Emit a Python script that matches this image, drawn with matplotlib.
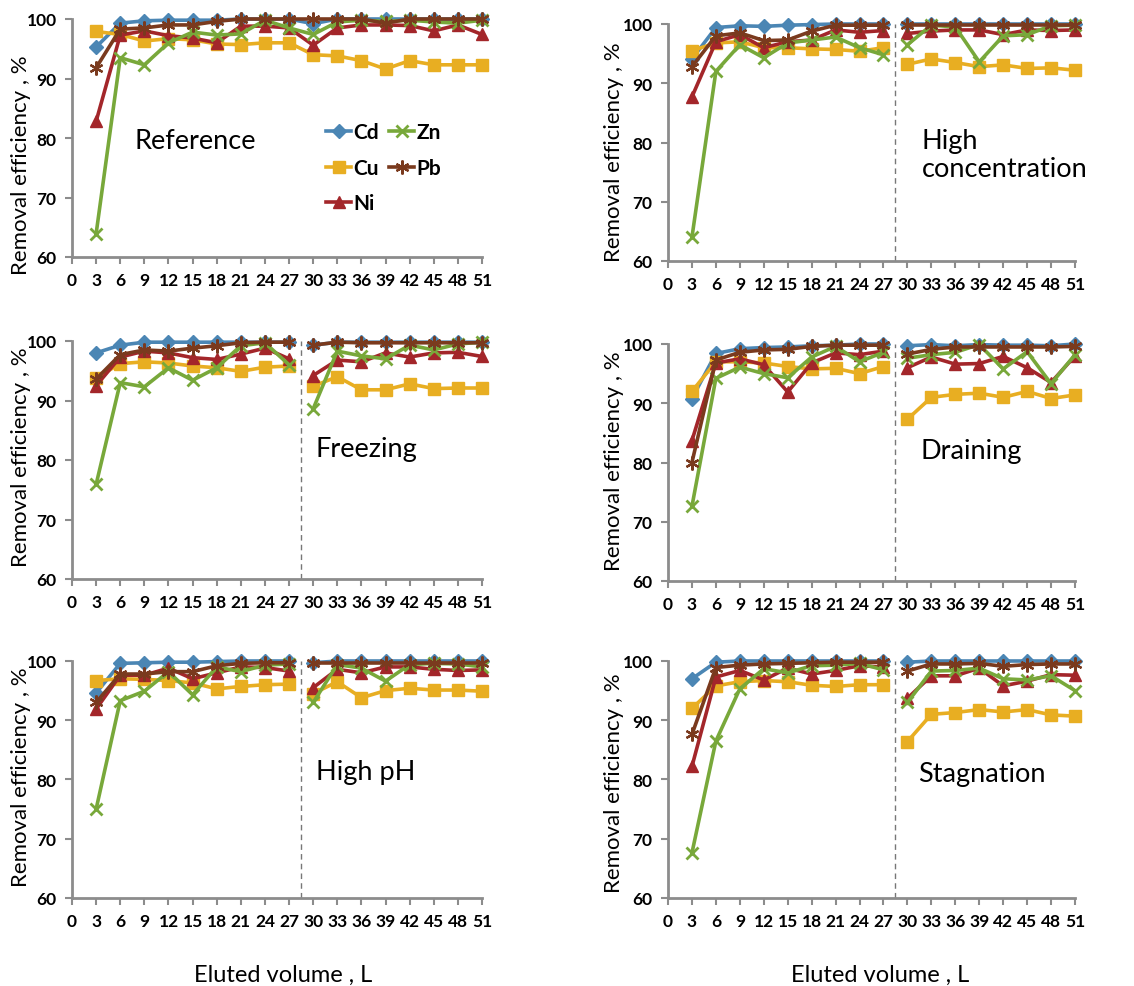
import matplotlib

matplotlib.use("Agg")
import matplotlib.pyplot as plt

plt.rcParams["font.family"] = ["Lato", "DejaVu Sans"]

# eluted volume, L
volume = [3, 6, 9, 12, 15, 18, 21, 24, 27, 30, 33, 36, 39, 42, 45, 48, 51]
ticks = list(range(0, 52, 3))
metals = ["Cd", "Cu", "Ni", "Zn", "Pb"]

# removal efficiency, %
ref_cd = [95.3, 99.3, 99.7, 99.8, 99.8, 99.8, 100, 100, 100, 99.2, 100, 100, 100, 100, 100, 100, 100]
ref_cu = [97.9, 97.4, 96.3, 96.7, 96.5, 95.8, 95.7, 96.0, 96.0, 94.0, 93.8, 93.0, 91.6, 93.0, 92.3, 92.3, 92.3]
ref_ni = [82.8, 97.3, 98.0, 97.2, 96.8, 96.0, 98.8, 98.8, 98.5, 95.6, 98.5, 99.0, 99.0, 98.9, 98.0, 99.0, 97.4]
ref_zn = [63.9, 93.5, 92.3, 96.0, 97.8, 97.3, 97.5, 99.8, 98.5, 97.4, 99.5, 99.8, 99.6, 99.8, 99.5, 99.3, 99.8]
ref_pb = [91.8, 98.3, 98.5, 99.0, 99.0, 99.6, 100, 100, 100, 100, 100, 100, 99.3, 100, 100, 100, 100]

hc_cd = [94.1, 99.4, 99.7, 99.6, 99.8, 99.9, 100, 100, 100, 100, 100, 100, 100, 100, 100, 100, 100]
hc_cu = [95.5, 96.8, 97.0, 96.0, 96.0, 95.8, 95.7, 95.4, 96.0, 93.2, 94.1, 93.5, 92.8, 93.1, 92.5, 92.6, 92.2]
hc_ni = [87.7, 97.0, 98.2, 96.0, 97.0, 97.3, 99.0, 98.6, 98.9, 98.4, 98.8, 99.0, 99.0, 98.2, 99.0, 98.9, 99.0]
hc_zn = [64.0, 92.0, 96.5, 94.3, 96.8, 97.3, 97.8, 96.0, 94.8, 96.5, 99.8, 99.5, 93.6, 98.0, 98.2, 99.7, 99.8]
hc_pb = [92.8, 98.0, 98.5, 97.2, 97.3, 98.8, 99.8, 99.8, 99.8, 99.8, 99.8, 99.8, 99.8, 99.8, 99.8, 99.8, 99.8]

fr_cd = [98.0, 99.3, 99.8, 99.8, 99.8, 99.8, 99.8, 99.8, 99.8, 99.3, 99.8, 99.8, 99.8, 99.8, 99.8, 99.8, 99.8]
fr_cu = [93.8, 96.2, 96.5, 96.3, 95.8, 95.5, 94.9, 95.6, 95.8, 92.4, 94.0, 91.8, 91.8, 92.8, 92.0, 92.1, 92.1]
fr_ni = [92.5, 97.3, 98.3, 98.0, 97.2, 96.9, 97.8, 98.8, 97.0, 94.2, 96.8, 96.5, 98.0, 97.3, 98.0, 98.1, 97.4]
fr_zn = [75.9, 93.0, 92.3, 95.5, 93.4, 95.5, 99.2, 99.7, 96.0, 88.6, 98.3, 97.5, 97.0, 99.3, 98.5, 99.5, 99.8]
fr_pb = [93.6, 97.7, 98.5, 98.3, 98.8, 99.2, 99.7, 99.8, 99.8, 99.3, 99.8, 99.7, 99.7, 99.7, 99.7, 99.7, 99.7]

dr_cd = [90.8, 98.4, 99.2, 99.4, 99.5, 99.7, 99.8, 100, 100, 99.7, 99.9, 99.7, 99.9, 99.8, 99.8, 99.7, 100]
dr_cu = [92.0, 97.0, 97.0, 96.8, 96.2, 95.8, 95.9, 95.0, 96.2, 87.3, 91.0, 91.5, 91.7, 91.0, 92.0, 90.8, 91.4]
dr_ni = [83.7, 96.8, 97.5, 96.5, 91.9, 96.8, 98.5, 98.2, 98.8, 96.0, 97.8, 96.6, 96.7, 97.9, 96.0, 93.5, 98.0]
dr_zn = [72.6, 94.2, 96.1, 95.0, 94.3, 97.8, 99.6, 97.0, 98.6, 97.6, 98.2, 98.6, 99.9, 95.8, 98.7, 93.3, 98.2]
dr_pb = [80.0, 97.3, 98.6, 99.0, 99.1, 99.6, 99.8, 99.8, 99.8, 98.3, 99.1, 99.5, 99.5, 99.5, 99.5, 99.5, 99.6]

ph_cd = [94.6, 99.6, 99.7, 99.8, 99.8, 99.9, 100, 100, 100, 99.7, 100, 100, 100, 100, 100, 100, 100]
ph_cu = [96.7, 97.0, 96.9, 96.7, 96.3, 95.3, 95.7, 96.0, 96.1, 94.5, 96.5, 93.8, 95.0, 95.4, 95.1, 95.1, 94.9]
ph_ni = [91.9, 97.6, 97.6, 98.8, 97.0, 98.0, 99.0, 98.9, 98.3, 95.5, 98.6, 98.0, 99.0, 99.0, 98.6, 98.4, 98.5]
ph_zn = [75.0, 93.3, 94.9, 98.2, 94.3, 99.0, 98.2, 99.3, 99.5, 93.0, 99.4, 98.8, 96.6, 99.4, 99.6, 99.5, 99.0]
ph_pb = [93.0, 97.8, 97.8, 98.2, 98.2, 99.2, 99.6, 99.7, 99.7, 99.7, 99.7, 99.7, 99.7, 99.7, 99.7, 99.7, 99.7]

st_cd = [97.0, 99.8, 100, 100, 100, 100, 100, 100, 100, 99.8, 100, 100, 100, 100, 100, 100, 100]
st_cu = [92.0, 95.8, 96.5, 96.7, 96.5, 95.9, 95.7, 96.0, 96.0, 86.4, 91.0, 91.3, 91.8, 91.4, 91.8, 90.9, 90.7]
st_ni = [82.2, 97.3, 98.4, 96.8, 98.8, 97.8, 98.4, 99.2, 99.0, 93.7, 97.5, 97.5, 98.8, 95.8, 96.6, 97.7, 97.6]
st_zn = [67.6, 86.5, 95.3, 98.7, 98.0, 99.2, 99.3, 99.6, 98.5, 93.0, 98.3, 98.4, 98.8, 97.0, 96.8, 97.5, 95.0]
st_pb = [87.6, 98.9, 99.3, 99.5, 99.6, 99.7, 99.8, 99.8, 99.8, 98.3, 99.5, 99.5, 99.6, 99.1, 99.4, 99.5, 99.5]

panels = [
    ("Reference", [ref_cd, ref_cu, ref_ni, ref_zn, ref_pb]),
    ("High\nconcentration", [hc_cd, hc_cu, hc_ni, hc_zn, hc_pb]),
    ("Freezing", [fr_cd, fr_cu, fr_ni, fr_zn, fr_pb]),
    ("Draining", [dr_cd, dr_cu, dr_ni, dr_zn, dr_pb]),
    ("High pH", [ph_cd, ph_cu, ph_ni, ph_zn, ph_pb]),
    ("Stagnation", [st_cd, st_cu, st_ni, st_zn, st_pb]),
]

colors = ["#4b86b4", "#e8ae22", "#a3262a", "#78a83a", "#7a3a1e"]
marker_kw = [
    dict(marker="D", ms=7),
    dict(marker="s", ms=8),
    dict(marker="^", ms=8.5),
    dict(marker="x", ms=8, mew=2),
    dict(marker=(6, 2, 0), ms=10, mew=1.6),
]

# layout in figure pixels: left, top, right, bottom of each plot area
W, H = 1134, 987
boxes = [(72, 20, 482, 258), (668, 25, 1075, 262),
         (72, 342, 482, 580), (668, 345, 1075, 582),
         (72, 662, 482, 899), (668, 662, 1075, 899)]
ylab_pos = [(-0.1, 0.39), (-0.108, 0.464), (-0.1, 0.515),
            (-0.108, 0.51), (-0.1, 0.515), (-0.108, 0.49)]
text_pos = [(7.8, 79.5), (31.8, 78.0), (30.3, 82.0),
            (31.6, 82.0), (30.3, 81.3), (31.3, 81.0)]

fig = plt.figure(figsize=(W / 100, H / 100), dpi=100)
axis_grey = "#8c8c8c"

for i, (name, series) in enumerate(panels):
    l, t, r, b = boxes[i]
    ax = fig.add_axes([l / W, 1 - b / H, (r - l) / W, (b - t) / H])
    split = i > 0  # the stop between 27 and 30 L breaks the lines
    for vals, c, mk, lab in zip(series, colors, marker_kw, metals):
        if split:
            ax.plot(volume[:9], vals[:9], color=c, lw=2.6, clip_on=False,
                    label=lab, **mk)
            ax.plot(volume[9:], vals[9:], color=c, lw=2.6, clip_on=False, **mk)
        else:
            ax.plot(volume, vals, color=c, lw=2.6, clip_on=False,
                    label=lab, **mk)
    if split:
        ax.axvline(28.5, color="#777777", lw=1.0, ls=(0, (4, 3)))
    ax.set_xlim(0, 51)
    ax.set_ylim(60, 100)
    ax.set_xticks(ticks)
    ax.set_yticks([60, 70, 80, 90, 100])
    for lbl in ax.get_xticklabels() + ax.get_yticklabels():
        lbl.set_fontweight("bold")
    ax.tick_params(direction="out", length=5, width=1.5, color=axis_grey,
                   labelsize=12.5, pad=6)
    for side in ("top", "right"):
        ax.spines[side].set_visible(False)
    for side in ("left", "bottom"):
        ax.spines[side].set_color(axis_grey)
        ax.spines[side].set_linewidth(2)
    ax.set_ylabel("Removal efficiency , %", fontsize=16)
    ax.yaxis.set_label_coords(*ylab_pos[i])
    ax.text(*text_pos[i], name, fontsize=19.5, va="center", ha="left",
            linespacing=1.15, clip_on=False)
    if i == 0:
        ax.legend(ncol=2, loc="upper left", bbox_to_anchor=(0.595, 0.61),
                  frameon=False, borderpad=0, handlelength=1.2,
                  handletextpad=0.1, columnspacing=0.5, labelspacing=0.75,
                  prop={"weight": "bold", "size": 15})

fig.text(283 / W, 1 - 975 / H, "Eluted volume , L", fontsize=17,
         ha="center", va="center")
fig.text(880 / W, 1 - 975 / H, "Eluted volume , L", fontsize=17,
         ha="center", va="center")

fig.savefig("out.png", dpi=100)
